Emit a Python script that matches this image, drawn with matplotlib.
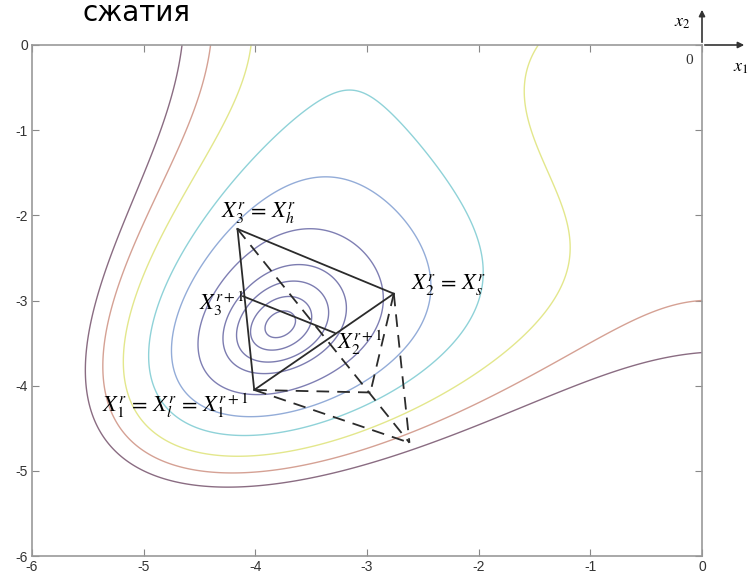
import numpy as np
import matplotlib
matplotlib.use("Agg")
import matplotlib.pyplot as plt

# целевая функция (Химмельблау) и уровни линий
levels = [1, 4, 9, 16, 35, 65, 100, 150, 200, 250]
level_colors = ["#7c7cb0", "#7c7cb0", "#7c7cb0", "#7c7cb0", "#7f7fb3",
                "#93acd8", "#8fd2d8", "#e3e78c", "#d5a194", "#8a6c82"]

# вершины симплекса
x_h = [-4.16, -2.16]   # X3 = Xh
x_s = [-2.76, -2.92]   # X2 = Xs
x_l = [-4.01, -4.05]   # X1 = Xl
x3_new = [-4.11, -2.95]
x2_new = [-3.29, -3.38]
x_refl = [-2.97, -4.08]
x_exp = [-2.62, -4.67]

ticks = [-6, -5, -4, -3, -2, -1, 0]


def f(x1, x2):
    return (x1 ** 2 + x2 - 11) ** 2 + (x1 + x2 ** 2 - 7) ** 2


plt.rcParams["mathtext.fontset"] = "stix"
plt.rcParams["axes.unicode_minus"] = False

fig = plt.figure(figsize=(7.49, 5.79), dpi=100)
ax = fig.add_axes([32 / 749, 1 - 556 / 579, 670 / 749, 511 / 579])

g = np.linspace(-6, 0, 400)
X, Y = np.meshgrid(g, g)
ax.contour(X, Y, f(X, Y), levels=levels, colors=level_colors, linewidths=1.0)

# отрезки симплекса
def seg(p, q, **kw):
    ax.plot([p[0], q[0]], [p[1], q[1]], **kw)

solid = dict(color="#2b2b2b", lw=1.3)
dashed = dict(color="#2b2b2b", lw=1.3, ls=(0, (7, 4.5)))
seg(x_h, x_s, **solid)
seg(x_s, x_l, **solid)
seg(x_l, x_h, **solid)
seg(x3_new, x2_new, **solid)
seg(x_h, x_exp, **dashed)
seg(x_s, x_refl, **dashed)
seg(x_s, x_exp, **dashed)
seg(x_l, x_refl, **dashed)
seg(x_l, x_exp, **dashed)

tfs = 16
ax.text(-3.967, -1.967, r"$X_3^r \,=\, X_h^r$", fontsize=tfs, ha="center", va="center")
ax.text(-4.30, -3.04, r"$X_3^{r+1}$", fontsize=tfs, ha="center", va="center")
ax.text(-3.06, -3.50, r"$X_2^{r+1}$", fontsize=tfs, ha="center", va="center")
ax.text(-2.27, -2.81, r"$X_2^r \,=\, X_s^r$", fontsize=tfs, ha="center", va="center")
ax.text(-4.72, -4.23, r"$X_1^r \,=\, X_l^r \,=\, X_1^{r+1}$", fontsize=tfs,
        ha="center", va="center")

ax.set_xlim(-6, 0)
ax.set_ylim(-6, 0)
ax.set_xticks(ticks)
ax.set_yticks(ticks)
ax.tick_params(direction="in", length=5, width=0.8, color="#888888",
               labelsize=10, labelcolor="#333333", top=True, right=True, pad=3)
for lab in ax.get_xticklabels() + ax.get_yticklabels():
    lab.set_family("Liberation Sans")
for s in ax.spines.values():
    s.set_color("#999999")
    s.set_linewidth(1.2)

# маленькая система координат в правом верхнем углу
ax.annotate("", xy=(1.0, 1 + 38 / 511), xytext=(1.0, 1.0), xycoords="axes fraction",
            arrowprops=dict(arrowstyle="-|>", color="#333333", lw=1.2, mutation_scale=9),
            annotation_clip=False)
ax.annotate("", xy=(1 + 45 / 670, 1.0), xytext=(1.0, 1.0), xycoords="axes fraction",
            arrowprops=dict(arrowstyle="-|>", color="#333333", lw=1.2, mutation_scale=9),
            annotation_clip=False)
ax.text(0.970, 1.045, r"$x_2$", transform=ax.transAxes, fontsize=13, ha="center", va="center")
ax.text(0.981, 0.969, "0", transform=ax.transAxes, fontsize=11, ha="center", va="center",
        family="Liberation Serif", color="#333333")
ax.text(1.058, 0.957, r"$x_1$", transform=ax.transAxes, fontsize=13, ha="center", va="center")

fig.text(83 / 749, 1 - 21 / 579, "сжатия", fontsize=20, ha="left", va="baseline")

fig.savefig("out.png", dpi=100)
